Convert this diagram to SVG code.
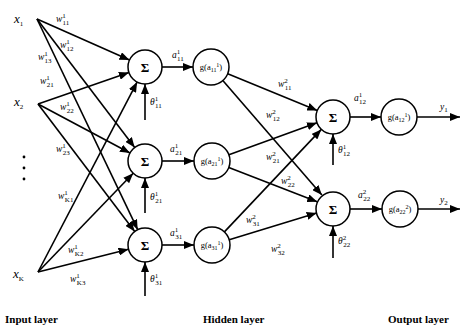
<svg xmlns="http://www.w3.org/2000/svg" width="461" height="331" viewBox="0 0 461 331">
<defs>
<marker id="ah" markerUnits="userSpaceOnUse" markerWidth="10" markerHeight="8" refX="10" refY="4" orient="auto">
<path d="M0,0 L10,4 L0,8 z" fill="#000"/>
</marker>
<style>
.e{stroke:#000;stroke-width:1.6;fill:none;marker-end:url(#ah)}
.n{stroke:#000;stroke-width:1.5;fill:#fff}
.t{font-family:"Liberation Serif","DejaVu Serif",serif;fill:#000}
.w{font-size:9.5px;font-style:italic}
.s{font-size:7px;font-style:normal}
.s2{font-size:6px;font-style:normal}
.sig{font-size:13px;text-anchor:middle;font-weight:bold}
.g{font-size:8.5px;text-anchor:middle}
.x{font-size:13px;font-style:italic}
.lay{font-size:11px;font-weight:bold}
</style>
</defs>
<g id="connectors">
<line class="e" x1="37" y1="19" x2="129.5" y2="60.1"/>
<line class="e" x1="37" y1="19" x2="134.7" y2="147.5"/>
<line class="e" x1="37" y1="19" x2="137.7" y2="229.7"/>
<line class="e" x1="38" y1="104" x2="128.9" y2="72.6"/>
<line class="e" x1="38" y1="104" x2="130" y2="153"/>
<line class="e" x1="38" y1="104" x2="134.7" y2="231.5"/>
<line class="e" x1="38" y1="272" x2="137.1" y2="82.1"/>
<line class="e" x1="38" y1="272" x2="133.2" y2="173.2"/>
<line class="e" x1="38" y1="272" x2="128.5" y2="249.2"/>
<line class="e" x1="162" y1="67" x2="193" y2="67"/>
<line class="e" x1="162" y1="161" x2="194" y2="161"/>
<line class="e" x1="162" y1="245" x2="194" y2="245"/>
<line class="e" x1="145" y1="120" x2="145" y2="84"/>
<line class="e" x1="145" y1="213" x2="145" y2="178"/>
<line class="e" x1="145" y1="296" x2="145" y2="262"/>
<line class="e" x1="227.7" y1="73.8" x2="317.3" y2="110.6"/>
<line class="e" x1="222.8" y1="80.6" x2="321.9" y2="195.1"/>
<line class="e" x1="228.9" y1="154.8" x2="317" y2="122.8"/>
<line class="e" x1="228.8" y1="167.5" x2="317.2" y2="201.8"/>
<line class="e" x1="224.4" y1="231.9" x2="321.3" y2="129.4"/>
<line class="e" x1="229.2" y1="239.7" x2="316.7" y2="213"/>
<line class="e" x1="350" y1="117" x2="381" y2="117"/>
<line class="e" x1="350" y1="209" x2="382" y2="209"/>
<line class="e" x1="333" y1="165" x2="333" y2="134"/>
<line class="e" x1="333" y1="258" x2="333" y2="226"/>
<line class="e" x1="417" y1="117" x2="460" y2="117"/>
<line class="e" x1="418" y1="209" x2="460" y2="209"/>
</g>
<g id="x1"><text class="t x" x="14" y="23">x<tspan class="s" dy="3">1</tspan></text></g>
<g id="x2"><text class="t x" x="14" y="106">x<tspan class="s" dy="3">2</tspan></text></g>
<g id="dots"><circle cx="24" cy="157" r="1.4"/><circle cx="24" cy="168" r="1.4"/><circle cx="24" cy="179" r="1.4"/></g>
<g id="xK"><text class="t x" x="13" y="278">x<tspan class="s" dy="3">K</tspan></text></g>
<g id="s1"><circle class="n" cx="145" cy="67" r="17"/><text class="t sig" x="145" y="72">Σ</text></g>
<g id="s2"><circle class="n" cx="145" cy="161" r="17"/><text class="t sig" x="145" y="166">Σ</text></g>
<g id="s3"><circle class="n" cx="145" cy="245" r="17"/><text class="t sig" x="145" y="250">Σ</text></g>
<g id="g1"><circle class="n" cx="211" cy="67" r="18"/><text class="t g" x="211" y="70">g(a<tspan class="s2" dy="2">11</tspan><tspan class="s2" dy="-5">1</tspan><tspan dy="3">)</tspan></text></g>
<g id="g2"><circle class="n" cx="212" cy="161" r="18"/><text class="t g" x="212" y="164">g(a<tspan class="s2" dy="2">21</tspan><tspan class="s2" dy="-5">1</tspan><tspan dy="3">)</tspan></text></g>
<g id="g3"><circle class="n" cx="212" cy="245" r="18"/><text class="t g" x="212" y="248">g(a<tspan class="s2" dy="2">31</tspan><tspan class="s2" dy="-5">1</tspan><tspan dy="3">)</tspan></text></g>
<g id="o1"><circle class="n" cx="333" cy="117" r="17"/><text class="t sig" x="333" y="122">Σ</text></g>
<g id="o2"><circle class="n" cx="333" cy="209" r="17"/><text class="t sig" x="333" y="214">Σ</text></g>
<g id="og1"><circle class="n" cx="399" cy="117" r="18"/><text class="t g" x="399" y="120">g(a<tspan class="s2" dy="2">12</tspan><tspan class="s2" dy="-5">1</tspan><tspan dy="3">)</tspan></text></g>
<g id="og2"><circle class="n" cx="400" cy="209" r="18"/><text class="t g" x="400" y="212">g(a<tspan class="s2" dy="2">22</tspan><tspan class="s2" dy="-5">2</tspan><tspan dy="3">)</tspan></text></g>
<g id="labels">
<text class="t w" x="56" y="22">w<tspan class="s" dy="-4">1</tspan><tspan class="s" dx="-3" dy="7">11</tspan></text>
<text class="t w" x="60" y="48">w<tspan class="s" dy="-4">1</tspan><tspan class="s" dx="-3" dy="7">12</tspan></text>
<text class="t w" x="38" y="60">w<tspan class="s" dy="-4">1</tspan><tspan class="s" dx="-3" dy="7">13</tspan></text>
<text class="t w" x="40" y="84">w<tspan class="s" dy="-4">1</tspan><tspan class="s" dx="-3" dy="7">21</tspan></text>
<text class="t w" x="60" y="110">w<tspan class="s" dy="-4">1</tspan><tspan class="s" dx="-3" dy="7">22</tspan></text>
<text class="t w" x="56" y="152">w<tspan class="s" dy="-4">1</tspan><tspan class="s" dx="-3" dy="7">23</tspan></text>
<text class="t w" x="58" y="199">w<tspan class="s" dy="-4">1</tspan><tspan class="s" dx="-3" dy="7">K1</tspan></text>
<text class="t w" x="68" y="253">w<tspan class="s" dy="-4">1</tspan><tspan class="s" dx="-3" dy="7">K2</tspan></text>
<text class="t w" x="70" y="282">w<tspan class="s" dy="-4">1</tspan><tspan class="s" dx="-3" dy="7">K3</tspan></text>
<text class="t w" x="172" y="58">a<tspan class="s" dy="-4">1</tspan><tspan class="s" dx="-3" dy="7">11</tspan></text>
<text class="t w" x="170" y="152">a<tspan class="s" dy="-4">1</tspan><tspan class="s" dx="-3" dy="7">21</tspan></text>
<text class="t w" x="170" y="236">a<tspan class="s" dy="-4">1</tspan><tspan class="s" dx="-3" dy="7">31</tspan></text>
<text class="t w" x="150" y="105">θ<tspan class="s" dy="-4">1</tspan><tspan class="s" dx="-3" dy="7">11</tspan></text>
<text class="t w" x="150" y="200">θ<tspan class="s" dy="-4">1</tspan><tspan class="s" dx="-3" dy="7">21</tspan></text>
<text class="t w" x="150" y="282">θ<tspan class="s" dy="-4">1</tspan><tspan class="s" dx="-3" dy="7">31</tspan></text>
<text class="t w" x="278" y="87">w<tspan class="s" dy="-4">2</tspan><tspan class="s" dx="-3" dy="7">11</tspan></text>
<text class="t w" x="266" y="118">w<tspan class="s" dy="-4">2</tspan><tspan class="s" dx="-3" dy="7">12</tspan></text>
<text class="t w" x="266" y="160">w<tspan class="s" dy="-4">2</tspan><tspan class="s" dx="-3" dy="7">21</tspan></text>
<text class="t w" x="281" y="184">w<tspan class="s" dy="-4">2</tspan><tspan class="s" dx="-3" dy="7">22</tspan></text>
<text class="t w" x="246" y="223">w<tspan class="s" dy="-4">2</tspan><tspan class="s" dx="-3" dy="7">31</tspan></text>
<text class="t w" x="271" y="252">w<tspan class="s" dy="-4">2</tspan><tspan class="s" dx="-3" dy="7">32</tspan></text>
<text class="t w" x="354" y="101">a<tspan class="s" dy="-4">1</tspan><tspan class="s" dx="-3" dy="7">12</tspan></text>
<text class="t w" x="358" y="198">a<tspan class="s" dy="-4">2</tspan><tspan class="s" dx="-3" dy="7">22</tspan></text>
<text class="t w" x="338" y="153">θ<tspan class="s" dy="-4">1</tspan><tspan class="s" dx="-3" dy="7">12</tspan></text>
<text class="t w" x="338" y="244">θ<tspan class="s" dy="-4">2</tspan><tspan class="s" dx="-3" dy="7">22</tspan></text>
<text class="t w" x="440" y="110">y<tspan class="s" dy="2">1</tspan></text>
<text class="t w" x="440" y="203">y<tspan class="s" dy="2">2</tspan></text>
<text class="t lay" x="5" y="323">Input layer</text>
<text class="t lay" x="203" y="323">Hidden layer</text>
<text class="t lay" x="388" y="323">Output layer</text>
</g>
</svg>
